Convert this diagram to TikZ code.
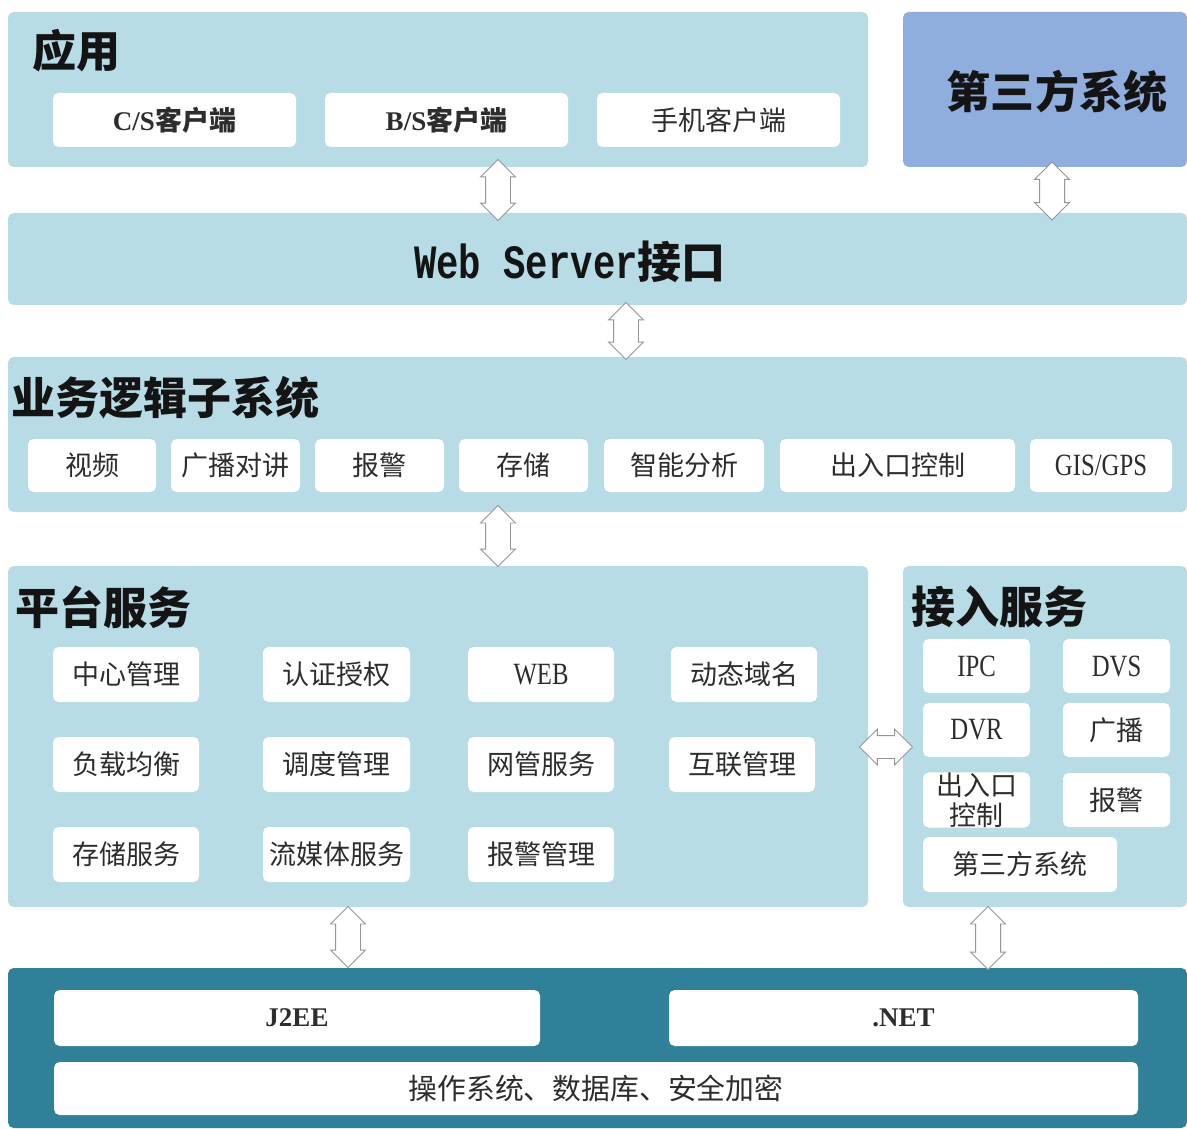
\documentclass[tikz,border=0pt]{standalone}
\usepackage{fontspec}
\setmainfont{Liberation Serif}
\newfontfamily\cjk{Noto Sans CJK SC}
\newfontfamily\wmono{Liberation Mono}[FakeStretch=0.78]
\newfontfamily\narrowserif{Liberation Serif}[FakeStretch=0.8]
\usetikzlibrary{shapes.arrows}
\definecolor{lb}{RGB}{183,220,230}
\definecolor{tp}{RGB}{143,174,221}
\definecolor{deep}{RGB}{47,128,152}
\definecolor{txt}{RGB}{45,45,45}
\definecolor{arrowgray}{RGB}{150,150,150}
\begin{document}
\begin{tikzpicture}[x=0.025cm,y=-0.025cm,
  box/.style args={#1,#2,#3,#4}{minimum width={(#3-#1)*0.025cm}, minimum height={(#4-#2)*0.025cm}, at={({(#1+#3)/2},{(#2+#4)/2})}},
  panel/.style={fill=lb, rounded corners=4pt, inner sep=0pt},
  item/.style={fill=white, rounded corners=4pt, inner sep=0pt, text=txt, font=\cjk\fontsize{19.2}{21.5}\selectfont, align=center},
  title/.style={font=\cjk\bfseries\fontsize{31.3}{36}\selectfont, text=black!92, inner sep=0pt},
  latinitem/.style={font=\narrowserif\fontsize{22}{24}\selectfont},
  varrow/.style={double arrow, draw=arrowgray, fill=white, line width=0.7pt, inner xsep=0pt, inner ysep=0.3cm, rotate=90,
    minimum height=1.525cm, minimum width=0pt, double arrow head extend=0.125cm},
  harrow/.style={double arrow, draw=arrowgray, fill=white, line width=0.7pt, inner xsep=0pt, inner ysep=0.275cm,
    minimum height=1.325cm, minimum width=0pt, double arrow head extend=0.16cm}
]
\useasboundingbox (0,0) rectangle (1187,1128);
\fill[white] (0,0) rectangle (1187,1128);

% ---------- 应用 ----------
\node[panel, box={8,12,868,167}] (app) {};
\node[title, anchor=west] (appT) at (32,51) {应用};
\node[item, box={53,93,296,147}] (cs) {{\rmfamily\bfseries C/S}{\bfseries 客户端}};
\node[item, box={325,93,568,147}] (bs) {{\rmfamily\bfseries B/S}{\bfseries 客户端}};
\node[item, box={597,93,840,147}] (mob) {手机客户端};

% ---------- 第三方系统 ----------
\node[panel, fill=tp, box={903,12,1187,167}] (third) {};
\node[title] (thirdT) at (1057,92) {第三方系统};

% ---------- Web Server ----------
\node[panel, box={8,213,1187,305}] (web) {};
\node[inner sep=0pt, text=black!92] (webT) at (570,262)
  {{\wmono\bfseries\fontsize{34}{38}\selectfont Web Server}{\cjk\bfseries\fontsize{31.3}{36}\selectfont 接口}};

% ---------- 业务逻辑子系统 ----------
\node[panel, box={8,357,1187,512}] (logic) {};
\node[title, anchor=west] (logicT) at (11,398) {业务逻辑子系统};
\node[item, box={28,439,156,492}] (l1) {视频};
\node[item, box={171,439,300,492}] (l2) {广播对讲};
\node[item, box={315,439,444,492}] (l3) {报警};
\node[item, box={459,439,588,492}] (l4) {存储};
\node[item, box={604,439,764,492}] (l5) {智能分析};
\node[item, box={780,439,1015,492}] (l6) {出入口控制};
\node[item, latinitem, box={1030,439,1172,492}] (l7) {GIS/GPS};

% ---------- 平台服务 ----------
\node[panel, box={8,566,868,907}] (plat) {};
\node[title, anchor=west] (platT) at (15,607) {平台服务};
\node[item, box={53,647,199,702}] (p11) {中心管理};
\node[item, box={263,647,410,702}] (p12) {认证授权};
\node[item, latinitem, box={468,647,614,702}] (p13) {WEB};
\node[item, box={671,647,817,702}] (p14) {动态域名};
\node[item, box={53,737,199,792}] (p21) {负载均衡};
\node[item, box={263,737,410,792}] (p22) {调度管理};
\node[item, box={468,737,614,792}] (p23) {网管服务};
\node[item, box={669,737,815,792}] (p24) {互联管理};
\node[item, box={53,827,199,882}] (p31) {存储服务};
\node[item, box={263,827,410,882}] (p32) {流媒体服务};
\node[item, box={468,827,614,882}] (p33) {报警管理};

% ---------- 接入服务 ----------
\node[panel, box={903,566,1187,907}] (acc) {};
\node[title, anchor=west] (accT) at (911,607) {接入服务};
\node[item, latinitem, box={923,639,1030,693}] (a11) {IPC};
\node[item, latinitem, box={1063,639,1170,693}] (a12) {DVS};
\node[item, latinitem, box={923,703,1030,757}] (a21) {DVR};
\node[item, box={1063,703,1170,757}] (a22) {广播};
\node[item, box={923,773,1030,827}] (a31) {出入口\\控制};
\node[item, box={1063,773,1170,827}] (a32) {报警};
\node[item, box={923,837,1117,892}] (a41) {第三方系统};

% ---------- 底层 ----------
\node[panel, fill=deep, box={8,968,1187,1128}] (base) {};
\node[item, box={54,990,540,1046}, font=\rmfamily\bfseries\fontsize{19.2}{21.5}\selectfont] (j2ee) {J2EE};
\node[item, box={669,990,1138,1046}, font=\rmfamily\bfseries\fontsize{19.2}{21.5}\selectfont] (net) {.NET};
\node[item, box={54,1062,1138,1115}, font=\cjk\fontsize{20.5}{23}\selectfont] (os) {操作系统、数据库、安全加密};

% ---------- 双向箭头 ----------
\node[varrow] (ar1) at (498,190) {};
\node[varrow, minimum height=1.45cm] (ar2) at (1052,191) {};
\node[varrow, minimum height=1.425cm] (ar3) at (626,331) {};
\node[varrow] (ar4) at (498,536) {};
\node[varrow] (ar5) at (348,937) {};
\node[varrow, minimum height=1.575cm] (ar6) at (988,938) {};
\node[harrow] (ar7) at (886,747) {};
\end{tikzpicture}
\end{document}
